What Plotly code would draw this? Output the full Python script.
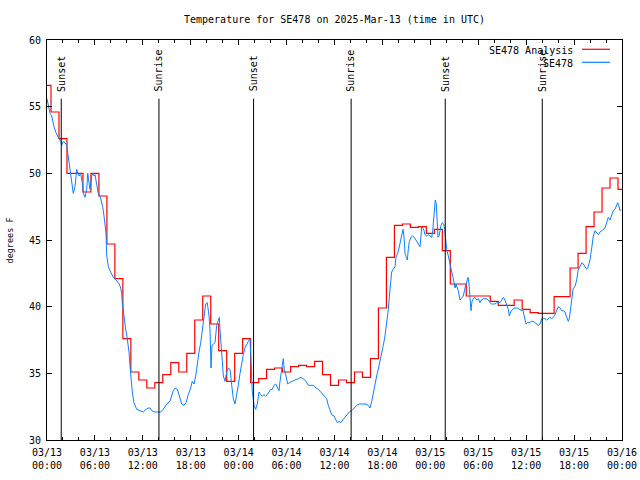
import plotly.graph_objects as go
import pandas as pd

start = pd.Timestamp("2025-03-13 00:00")
end = pd.Timestamp("2025-03-16 00:00")

# Hourly analysis values (03/13 00:00 .. 03/16 00:00)
analysis_temp = [56.6, 54.6, 52.6, 50.0, 50.0, 48.6, 50.0, 48.3, 44.7, 42.1,
                 37.6, 35.1, 34.5, 33.9, 34.3, 34.9, 35.8, 35.1, 36.5, 39.0,
                 40.8, 38.7, 36.7, 34.4, 36.5, 37.6, 34.3, 34.6, 35.3, 35.4,
                 35.1, 35.5, 35.6, 35.5, 35.9, 34.9, 34.1, 34.5, 34.3, 35.1,
                 34.7, 36.1, 39.9, 43.7, 46.1, 46.2, 45.95, 46.0, 45.5, 45.8,
                 44.2, 41.7, 41.7, 40.8, 40.8, 40.8, 40.4, 40.1, 40.1, 40.5,
                 39.8, 39.55, 39.5, 39.5, 40.75, 40.75, 42.9, 44.0, 46.0, 47.1,
                 48.9, 49.65, 48.8]

# Observations: hours after 03/13 00:00 and temperature
obs_hours = [0.0,0.16,0.38,0.59,0.71,0.88,1.09,1.29,1.50,1.72,1.84,2.04,2.25,2.47,2.67,2.88,3.09,3.29,3.51,3.72,
 3.84,4.04,4.22,4.42,4.55,4.76,4.97,5.10,5.26,5.38,5.60,5.72,5.89,6.01,6.22,6.42,6.64,6.85,6.97,7.14,
 7.26,7.39,7.48,7.55,7.68,7.89,8.10,8.30,8.51,8.80,9.05,9.23,9.35,9.43,9.64,9.85,10.05,10.27,10.39,10.52,
 10.68,10.89,11.23,11.65,12.06,12.40,12.68,12.90,13.11,13.52,13.94,14.24,14.56,14.99,15.40,15.61,15.81,16.03,16.32,16.57,
 16.87,17.15,17.41,17.69,17.99,18.19,18.41,18.62,18.82,19.03,19.25,19.45,19.66,19.87,20.07,20.29,20.41,20.54,20.66,20.82,
 21.04,21.25,21.45,21.58,21.66,21.79,21.91,22.08,22.29,22.50,22.70,22.92,23.13,23.33,23.54,23.75,23.95,24.17,24.38,24.58,
 24.79,25.01,25.21,25.42,25.54,25.71,25.92,26.13,26.33,26.55,26.76,26.96,27.17,27.38,27.59,27.84,28.01,28.21,28.42,28.64,
 28.84,29.05,29.18,29.30,29.46,29.59,29.71,29.93,30.14,30.34,30.64,31.05,31.47,31.81,32.09,32.43,32.72,33.02,33.35,33.68,
 33.97,34.27,34.60,34.81,35.02,35.22,35.44,35.65,35.94,36.19,36.35,36.60,36.81,37.03,37.31,37.60,37.85,38.15,38.44,38.78,
 39.11,39.53,39.94,40.23,40.45,40.66,40.86,41.07,41.28,41.48,41.70,41.91,42.11,42.32,42.54,42.74,42.95,43.16,43.36,43.58,
 43.70,43.91,44.08,44.24,44.42,44.58,44.70,44.83,44.99,45.12,45.24,45.37,45.58,45.79,45.99,46.29,46.49,46.71,46.83,46.92,
 47.05,47.21,47.33,47.55,47.75,47.96,48.17,48.30,48.37,48.50,48.62,48.75,48.84,48.96,49.09,49.21,49.34,49.50,49.67,49.80,
 49.92,50.05,50.25,50.46,50.68,50.88,51.09,51.21,51.38,51.50,51.71,51.93,52.13,52.34,52.55,52.72,52.84,52.97,53.09,53.22,
 53.38,53.59,53.81,54.01,54.22,54.38,54.63,54.97,55.26,55.47,55.68,55.88,56.10,56.31,56.51,56.72,56.94,57.14,57.35,57.56,
 57.76,57.89,58.06,58.31,58.60,58.89,59.23,59.44,59.57,59.73,59.85,59.98,60.14,60.39,60.69,60.89,61.11,61.32,61.52,61.73,
 61.95,62.15,62.36,62.57,62.77,62.98,63.20,63.40,63.61,63.82,64.02,64.24,64.45,64.65,64.86,65.08,65.28,65.40,65.58,65.70,
 65.90,66.11,66.33,66.49,66.65,66.83,66.99,67.15,67.37,67.58,67.78,67.99,68.21,68.41,68.62,68.83,69.03,69.25,69.46,69.66,
 69.87,70.08,70.28,70.50,70.71,70.91,71.12,71.34,71.46,71.63,71.75,71.91]

obs_temp = [55.6,55.0,54.5,54.3,53.9,53.5,53.1,52.8,52.6,52.4,52.1,52.4,52.3,52.1,51.3,50.3,49.3,48.5,49.0,50.3,
 50.0,49.8,50.0,49.3,48.5,48.2,48.8,50.0,49.3,48.8,49.8,50.0,49.8,49.9,49.2,48.5,48.3,47.8,47.5,46.8,
 46.3,45.5,43.8,43.3,43.0,42.7,42.4,42.2,42.1,41.9,41.7,41.4,41.0,40.3,39.1,38.3,37.6,36.6,35.6,34.4,
 33.6,32.8,32.3,32.2,32.1,32.3,32.4,32.4,32.2,32.1,32.1,32.1,32.3,32.7,32.9,33.3,33.7,33.9,33.8,33.3,
 32.7,32.6,32.8,33.4,33.9,34.4,34.2,34.8,35.8,36.6,37.3,38.3,39.6,40.2,40.3,39.3,38.3,35.4,37.1,37.2,
 37.3,38.6,39.1,39.2,38.3,37.1,35.8,34.8,34.4,35.1,35.4,35.3,34.1,33.1,32.7,33.3,34.1,35.0,35.8,36.4,
 36.9,37.2,37.4,37.6,36.3,33.6,32.6,32.3,32.7,33.6,33.4,33.3,33.4,33.3,33.4,33.7,33.8,33.8,34.1,34.2,
 33.9,33.7,34.4,35.1,35.6,36.1,35.3,34.8,34.2,34.3,34.4,34.5,34.6,34.7,34.6,34.4,34.1,34.1,34.1,33.9,
 33.8,33.6,33.4,33.3,33.1,32.6,32.2,31.9,31.8,31.4,31.3,31.4,31.3,31.5,31.7,31.9,32.1,32.2,32.4,32.6,
 32.7,32.7,32.7,32.6,32.4,32.9,33.6,34.2,34.8,35.3,35.9,36.4,37.1,37.8,38.8,39.8,41.3,42.6,42.8,43.0,
 43.7,44.0,44.4,44.8,45.3,45.8,45.3,44.0,43.7,43.5,44.3,44.9,45.2,45.3,45.2,44.9,44.7,44.5,45.3,46.0,
 45.9,45.7,45.4,45.3,45.4,45.3,45.2,45.7,46.4,47.3,48.0,47.7,46.5,45.2,45.3,45.8,46.1,46.3,46.2,45.8,
 45.0,44.3,43.8,43.1,42.6,42.1,41.4,41.7,41.4,41.2,40.5,40.7,40.8,41.4,41.8,42.2,41.7,40.5,39.7,40.4,
 40.6,40.7,40.5,40.6,40.3,40.5,40.6,40.6,40.5,40.3,40.2,40.2,40.2,40.3,40.3,40.3,40.5,40.7,40.5,40.2,
 39.8,39.3,39.6,39.8,39.9,39.9,39.8,39.7,39.8,39.4,38.9,38.7,38.8,38.8,38.9,38.9,38.8,38.7,38.6,38.7,
 39.1,39.1,39.1,39.0,39.1,39.2,39.1,39.2,39.4,39.8,40.0,39.9,39.7,39.7,39.6,39.2,38.9,39.1,39.8,40.5,
 41.4,41.5,42.0,42.7,42.9,43.2,43.3,43.2,43.0,42.8,43.0,43.5,44.4,45.3,45.7,45.5,45.4,45.6,45.7,45.8,
 45.9,46.3,46.7,46.5,46.8,47.2,47.3,47.7,47.8,47.5,47.2,47.3]

assert len(obs_hours) == len(obs_temp), (len(obs_hours), len(obs_temp))

# Sunrise / sunset events
event_names = ["Sunset", "Sunrise", "Sunset", "Sunrise", "Sunset", "Sunrise"]
event_times = ["2025-03-13 01:47", "2025-03-13 14:01", "2025-03-14 01:52",
               "2025-03-14 14:05", "2025-03-15 01:52", "2025-03-15 14:01"]
event_line_top = 55.6

analysis_time = [start + pd.Timedelta(hours=h) for h in range(len(analysis_temp))]
obs_time = [start + pd.Timedelta(hours=h) for h in obs_hours]

MONO = "DejaVu Sans Mono"

fig = go.Figure()
fig.add_trace(go.Scatter(x=analysis_time, y=analysis_temp, mode="lines",
                         line=dict(color="#ff0000", width=1.2, shape="hvh"),
                         name="SE478 Analysis", showlegend=False))
fig.add_trace(go.Scatter(x=obs_time, y=obs_temp, mode="lines",
                         line=dict(color="#0a80ff", width=1),
                         name="SE478", showlegend=False))

shapes = []
annotations = []
for name, t in zip(event_names, event_times):
    shapes.append(dict(type="line", xref="x", yref="y", x0=t, x1=t, y0=30, y1=event_line_top,
                       line=dict(color="black", width=1)))
    annotations.append(dict(xref="x", yref="y", x=t, y=event_line_top, text=name,
                            textangle=-90, xanchor="center", yanchor="bottom", yshift=5,
                            showarrow=False, font=dict(family=MONO, size=10, color="black")))

# manual legend (text left of line sample, gnuplot style); plot area 47..622 px wide
annotations.append(dict(xref="paper", yref="paper", x=0.9183, y=0.975, text="SE478 Analysis",
                        xanchor="right", yanchor="middle", showarrow=False,
                        font=dict(family=MONO, size=10, color="black")))
annotations.append(dict(xref="paper", yref="paper", x=0.9183, y=0.9418, text="SE478",
                        xanchor="right", yanchor="middle", showarrow=False,
                        font=dict(family=MONO, size=10, color="black")))
shapes.append(dict(type="line", xref="paper", yref="paper", x0=0.9304, x1=0.9791,
                   y0=0.9768, y1=0.9768, line=dict(color="#ff0000", width=1.2)))
shapes.append(dict(type="line", xref="paper", yref="paper", x0=0.9304, x1=0.9791,
                   y0=0.9443, y1=0.9443, line=dict(color="#0a80ff", width=1.2)))

# y label
annotations.append(dict(xref="paper", yref="paper", x=-0.0635, y=0.5, text="degrees F",
                        textangle=-90, xanchor="center", yanchor="middle", showarrow=False,
                        font=dict(family=MONO, size=8.5, color="black")))

fig.update_layout(
    width=640, height=480,
    margin=dict(l=47, r=18, t=40, b=40, autoexpand=False),
    paper_bgcolor="white", plot_bgcolor="white",
    title=dict(text="Temperature for SE478 on 2025-Mar-13 (time in UTC)",
               x=0.5, xref="paper", xanchor="center",
               y=1 - 19 / 480, yref="container", yanchor="middle",
               font=dict(family=MONO, size=10, color="black")),
    shapes=shapes, annotations=annotations,
    showlegend=False,
)
fig.update_xaxes(
    type="date", range=[start, end], automargin=False,
    showline=True, linecolor="black", linewidth=1, mirror="ticks",
    ticks="inside", ticklen=5, tickcolor="black", tickwidth=1,
    tick0=start, dtick=6 * 3600000, tickformat="%m/%d<br>%H:%M",
    tickfont=dict(family=MONO, size=10, color="black"), ticklabelstandoff=3,
    minor=dict(dtick=2 * 3600000, ticks="inside", ticklen=3, tickcolor="black", showgrid=False),
    showgrid=False, zeroline=False,
)
fig.update_yaxes(
    range=[30, 60], dtick=5, tick0=30, automargin=False,
    showline=True, linecolor="black", linewidth=1, mirror="ticks",
    ticks="inside", ticklen=5, tickcolor="black", tickwidth=1,
    tickfont=dict(family=MONO, size=10, color="black"), ticklabelstandoff=3,
    showgrid=False, zeroline=False,
)

fig.write_html("out.html", config={"displayModeBar": False},
               post_script="document.body.style.margin='0px';document.body.style.padding='0px';")
